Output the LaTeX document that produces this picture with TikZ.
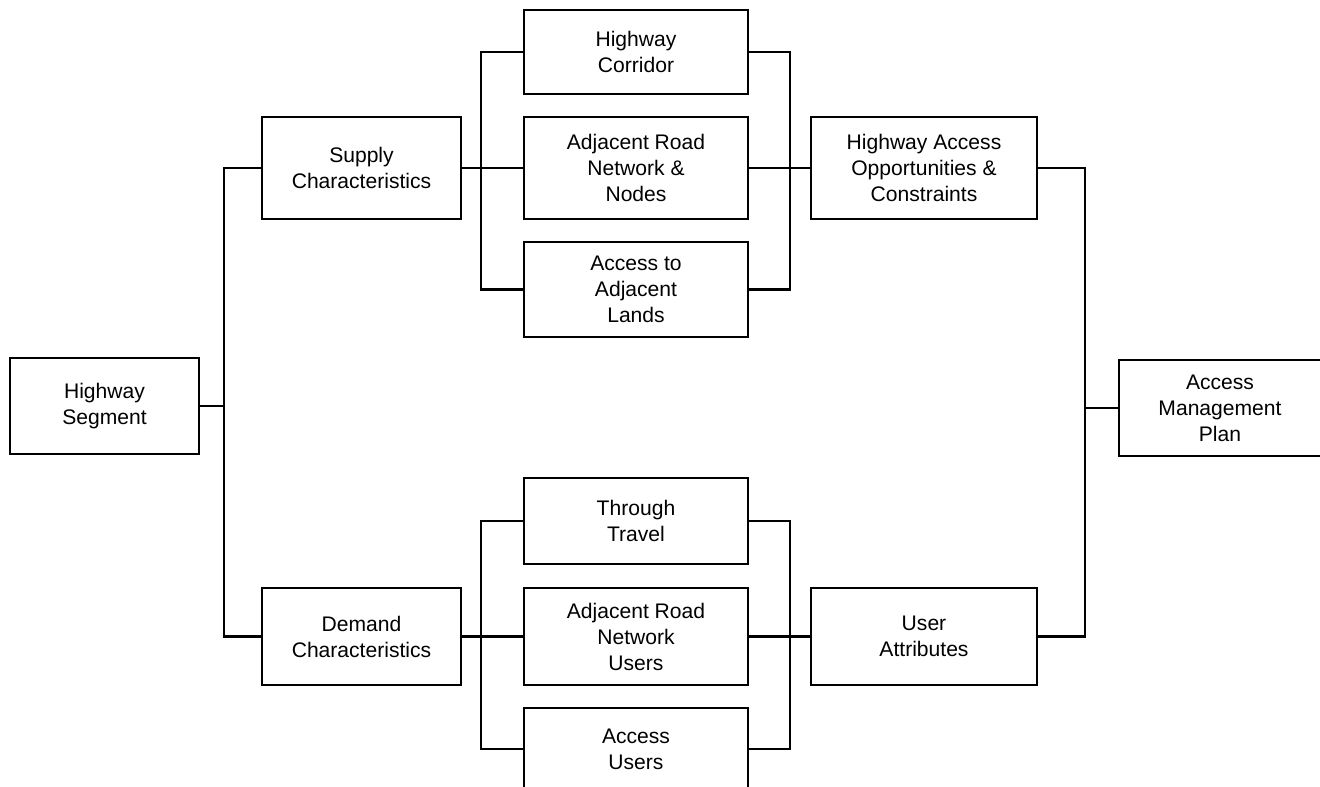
\documentclass[tikz,border=0pt]{standalone}
\usepackage{fontspec}
\setmainfont{Liberation Sans}
\begin{document}
\begin{tikzpicture}[x=0.02cm, y=-0.02cm, line width=1.2pt,
		stage/.style={draw, rectangle, align=center, inner sep=0pt, font=\fontsize{12}{14.8}\selectfont}]
				\useasboundingbox (0,0) rectangle (1320,787);

				% Segment
				\node[stage, minimum width=189*0.02cm, minimum height=96*0.02cm] (seg) at (104.5,406) {Highway\\Segment};

				% Supply and demand
				\node[stage, minimum width=199*0.02cm, minimum height=102*0.02cm] (sup) at (361.5,168) {Supply\\Characteristics};
				\node[stage, minimum width=199*0.02cm, minimum height=97*0.02cm] (dem) at (361.5,636.5) {Demand\\Characteristics};

				% Supply factors
				\node[stage, minimum width=224*0.02cm, minimum height=84*0.02cm] (hc) at (636,52) {Highway\\Corridor};
				\node[stage, minimum width=224*0.02cm, minimum height=102*0.02cm] (arn) at (636,168) {Adjacent Road\\Network \&\\Nodes};
				\node[stage, minimum width=224*0.02cm, minimum height=95*0.02cm] (aal) at (636,289.5) {Access to\\Adjacent\\Lands};

				% Demand factors
				\node[stage, minimum width=224*0.02cm, minimum height=86*0.02cm] (tt) at (636,521) {Through\\Travel};
				\node[stage, minimum width=224*0.02cm, minimum height=97*0.02cm] (aru) at (636,636.5) {Adjacent Road\\Network\\Users};
				\node[stage, minimum width=224*0.02cm, minimum height=82*0.02cm] (au) at (636,749) {Access\\Users};

				% Results
				\node[stage, minimum width=226*0.02cm, minimum height=102*0.02cm] (hao) at (924,168) {Highway Access\\Opportunities \&\\Constraints};
				\node[stage, minimum width=226*0.02cm, minimum height=97*0.02cm] (ua) at (924,636.5) {User\\Attributes};

				% Plan
				\node[stage, minimum width=202*0.02cm, minimum height=96*0.02cm] (amp) at (1220,408) {Access\\Management\\Plan};

				% Bus lines
				\coordinate (busA) at (224,0);
				\coordinate (busB) at (481,0);
				\coordinate (busC) at (790,0);
				\coordinate (busD) at (1085,0);

				\draw (seg.east) -- (seg.east -| busA);
				\draw (sup.west) -- (sup.west -| busA) -- (dem.west -| busA) -- (dem.west);

				\draw (sup.east) -- (arn.west);
				\draw (hc.west) -- (hc.west -| busB) -- (aal.west -| busB) -- (aal.west);
				\draw (hc.east) -- (hc.east -| busC) -- (aal.east -| busC) -- (aal.east);
				\draw (arn.east) -- (hao.west);

				\draw (dem.east) -- (aru.west);
				\draw (tt.west) -- (tt.west -| busB) -- (au.west -| busB) -- (au.west);
				\draw (tt.east) -- (tt.east -| busC) -- (au.east -| busC) -- (au.east);
				\draw (aru.east) -- (ua.west);

				\draw (hao.east) -- (hao.east -| busD) -- (ua.east -| busD) -- (ua.east);
				\draw (amp.west) -- (amp.west -| busD);
			\end{tikzpicture}
\end{document}
